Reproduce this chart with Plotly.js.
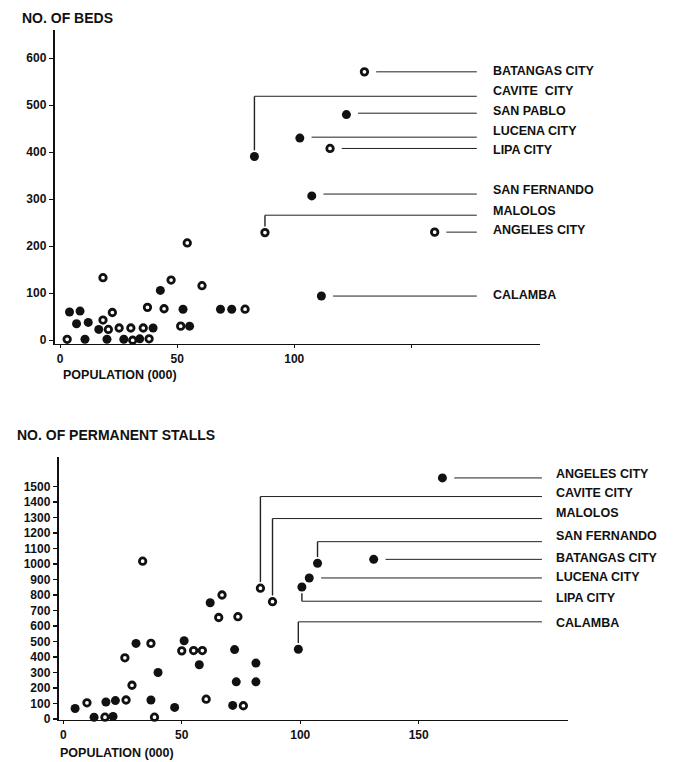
<!DOCTYPE html>
<html><head><meta charset="utf-8">
<script src="https://cdn.plot.ly/plotly-3.0.1.min.js"></script>
<style>html,body{margin:0;padding:0;background:#fff}#chart{width:675px;height:762px}</style>
</head><body><div id="chart"></div>
<script>
// ---------- Top chart: number of hospital beds vs population (000) ----------
const bedsPop    = [3,4,7,8.5,10.6,12,16.5,18.3,18.3,20,20.6,22.3,25.2,27.2,30.2,31,34,35.5,38,37.3,39.7,42.8,44.4,47.4,51.5,52.5,54.3,55.3,60.6,68.5,73.3,79];
const bedsCount  = [2,60,35,62,2,38,23,43,133,2,23,59,26,2,26,0,3,26,3,70,26,106,67,128,30,66,207,30,116,66,66,66];
const bedsHollow = [1,0,0,0,0,0,0,1,1,0,1,1,1,0,1,1,0,1,1,1,0,0,1,1,1,0,1,0,1,0,0,1];
const bedsCities     = ['BATANGAS CITY','CAVITE  CITY','SAN PABLO','LUCENA CITY','LIPA CITY','SAN FERNANDO','MALOLOS','ANGELES CITY','CALAMBA'];
const bedsCityPop    = [130,83,122.3,102.4,115.3,107.5,87.5,160,111.6];
const bedsCityCount  = [571,391,480,430,408,307,229,230,94];
const bedsCityHollow = [1,0,0,0,1,0,1,1,0];
const bedsYTicks = [0,100,200,300,400,500,600];
const bedsXTicks = [0,50,100,150];
const bedsXText  = ['0','50','100',''];

// ---------- Bottom chart: number of permanent market stalls vs population (000) ----------
const stallsPop    = [5,10,13,17.6,18,21,22,26,26.5,29,30.7,33.5,37,37,38.5,40,47,50,51,55,57.4,58.7,60.3,62,65.6,67,71.5,72.3,73,73.7,76,81.3,81.3];
const stallsCount  = [68,105,12,12,110,17,119,395,123,218,488,1018,488,123,12,300,75,440,505,442,350,442,128,750,655,800,88,448,240,660,86,361,240];
const stallsHollow = [0,1,0,1,0,0,0,1,1,1,0,1,1,0,1,0,0,1,0,1,0,1,1,0,1,1,0,0,0,1,1,0,0];
const stallsCities     = ['ANGELES CITY','CAVITE CITY','MALOLOS','SAN FERNANDO','BATANGAS CITY','LUCENA CITY','LIPA CITY','CALAMBA'];
const stallsCityPop    = [160,83.2,88.3,107.3,131,103.8,100.7,99.2];
const stallsCityCount  = [1555,844,757,1005,1030,910,852,450];
const stallsCityHollow = [0,1,1,0,0,0,0,0];
const stallsYTicks = [0,100,200,300,400,500,600,700,800,900,1000,1100,1200,1300,1400,1500];
const stallsXTicks = [0,50,100,150];

// ---------- layout helpers (leader-line and label placement, in data units) ----------
const bedsLeader = {
  lineLevels: [571,519,483,432,408,311,266,230,94],
  labelLevels:[573,530,487,445,405,320,274,235,96],
  lineEnd:178, labelX:184, xgap:5, ygap:13};
const stallsLeader = {
  lineLevels: [1555,1435,1293,1144,1030,910,760,627],
  labelLevels:[1580,1458,1330,1178,1040,918,780,618],
  lineEnd:202, labelX:207, xgap:5, ygap:40};

const W = 675, H = 762;
const FONT = 'Liberation Sans, Arial, Helvetica, sans-serif';
const px = v => v / W, py = v => 1 - v / H;

function pick(arr, flags, want) { return arr.filter((_, i) => flags[i] === want); }

function scatterTraces(xs, ys, hollow, xa, ya) {
  return [
    {type:'scatter', mode:'markers', x:pick(xs,hollow,0), y:pick(ys,hollow,0), xaxis:xa, yaxis:ya,
     cliponaxis:false, hoverinfo:'skip',
     marker:{size:9, color:'#111', line:{width:0}}},
    {type:'scatter', mode:'markers', x:pick(xs,hollow,1), y:pick(ys,hollow,1), xaxis:xa, yaxis:ya,
     cliponaxis:false, hoverinfo:'skip',
     marker:{size:6.5, color:'#fff', line:{width:2.8, color:'#111'}}}
  ];
}

function leaders(names, xs, ys, cfg, xr, yr) {
  const shapes = [], annos = [];
  const ln = {color:'#222', width:1};
  names.forEach((n, i) => {
    const lev = cfg.lineLevels[i], x0 = xs[i], y0 = ys[i];
    if (Math.abs(lev - y0) < cfg.ygap * 0.6) {
      shapes.push({type:'line', xref:xr, yref:yr, x0:x0 + cfg.xgap, x1:cfg.lineEnd, y0:lev, y1:lev, line:ln});
    } else {
      const ys0 = lev > y0 ? y0 + cfg.ygap : y0 - cfg.ygap;
      shapes.push({type:'line', xref:xr, yref:yr, x0:x0, x1:x0, y0:ys0, y1:lev, line:{color:'#222', width:1.4}});
      shapes.push({type:'line', xref:xr, yref:yr, x0:x0, x1:cfg.lineEnd, y0:lev, y1:lev, line:ln});
    }
    annos.push({xref:xr, yref:yr, x:cfg.labelX, y:cfg.labelLevels[i], text:n, showarrow:false,
      xanchor:'left', yanchor:'middle',
      font:{family:FONT, size:12.5, color:'#111', weight:'bold'}});
  });
  return {shapes, annos};
}

const data = [
  ...scatterTraces(bedsPop, bedsCount, bedsHollow, 'x', 'y'),
  ...scatterTraces(bedsCityPop, bedsCityCount, bedsCityHollow, 'x', 'y'),
  ...scatterTraces(stallsPop, stallsCount, stallsHollow, 'x2', 'y2'),
  ...scatterTraces(stallsCityPop, stallsCityCount, stallsCityHollow, 'x2', 'y2')
];

const L1 = leaders(bedsCities, bedsCityPop, bedsCityCount, bedsLeader, 'x', 'y');
const L2 = leaders(stallsCities, stallsCityPop, stallsCityCount, stallsLeader, 'x2', 'y2');

const tickFont = {family:FONT, size:12, color:'#111', weight:'bold'};
const axBase = {showgrid:false, zeroline:false, showline:true, linecolor:'#111', ticks:'outside',
  tickcolor:'#111', tickfont:tickFont, fixedrange:true};

const titleFont = {family:FONT, size:14, color:'#111', weight:'bold'};
const axisTitles = [
  {text:'NO. OF BEDS', x:px(20), y:py(18)},
  {text:'POPULATION (000)', x:px(61), y:py(375), small:true},
  {text:'NO. OF PERMANENT STALLS', x:px(15), y:py(435)},
  {text:'POPULATION (000)', x:px(58), y:py(753), small:true}
].map(t => ({xref:'paper', yref:'paper', x:t.x, y:t.y, text:t.text, showarrow:false, xanchor:'left', yanchor:'middle',
  font:Object.assign({}, titleFont, {size: t.small ? 12.5 : 14})}));

const layout = {
  width:W, height:H, margin:{l:0, r:0, t:0, b:0}, paper_bgcolor:'#fff', plot_bgcolor:'rgba(0,0,0,0)',
  showlegend:false,
  xaxis: Object.assign({}, axBase, {domain:[px(55), px(540)], range:[-2.2, 205], anchor:'y',
    tickvals:bedsXTicks, ticktext:bedsXText, ticklen:3, tickwidth:1.2, linewidth:1.4}),
  yaxis: Object.assign({}, axBase, {domain:[py(344), py(30)], range:[-8, 660], anchor:'x',
    tickvals:bedsYTicks, ticklen:4, tickwidth:1.4, linewidth:2.2}),
  xaxis2: Object.assign({}, axBase, {domain:[px(59), px(568)], range:[-1.8, 213], anchor:'y2',
    tickvals:stallsXTicks, ticklen:3, tickwidth:1.2, linewidth:1.4}),
  yaxis2: Object.assign({}, axBase, {domain:[py(720), py(457)], range:[-6, 1690], anchor:'x2',
    tickvals:stallsYTicks, ticklen:4, tickwidth:1.4, linewidth:2.2}),
  shapes:[...L1.shapes, ...L2.shapes],
  annotations:[...axisTitles, ...L1.annos, ...L2.annos]
};

Plotly.newPlot('chart', data, layout, {displayModeBar:false, staticPlot:true});
</script></body></html>
